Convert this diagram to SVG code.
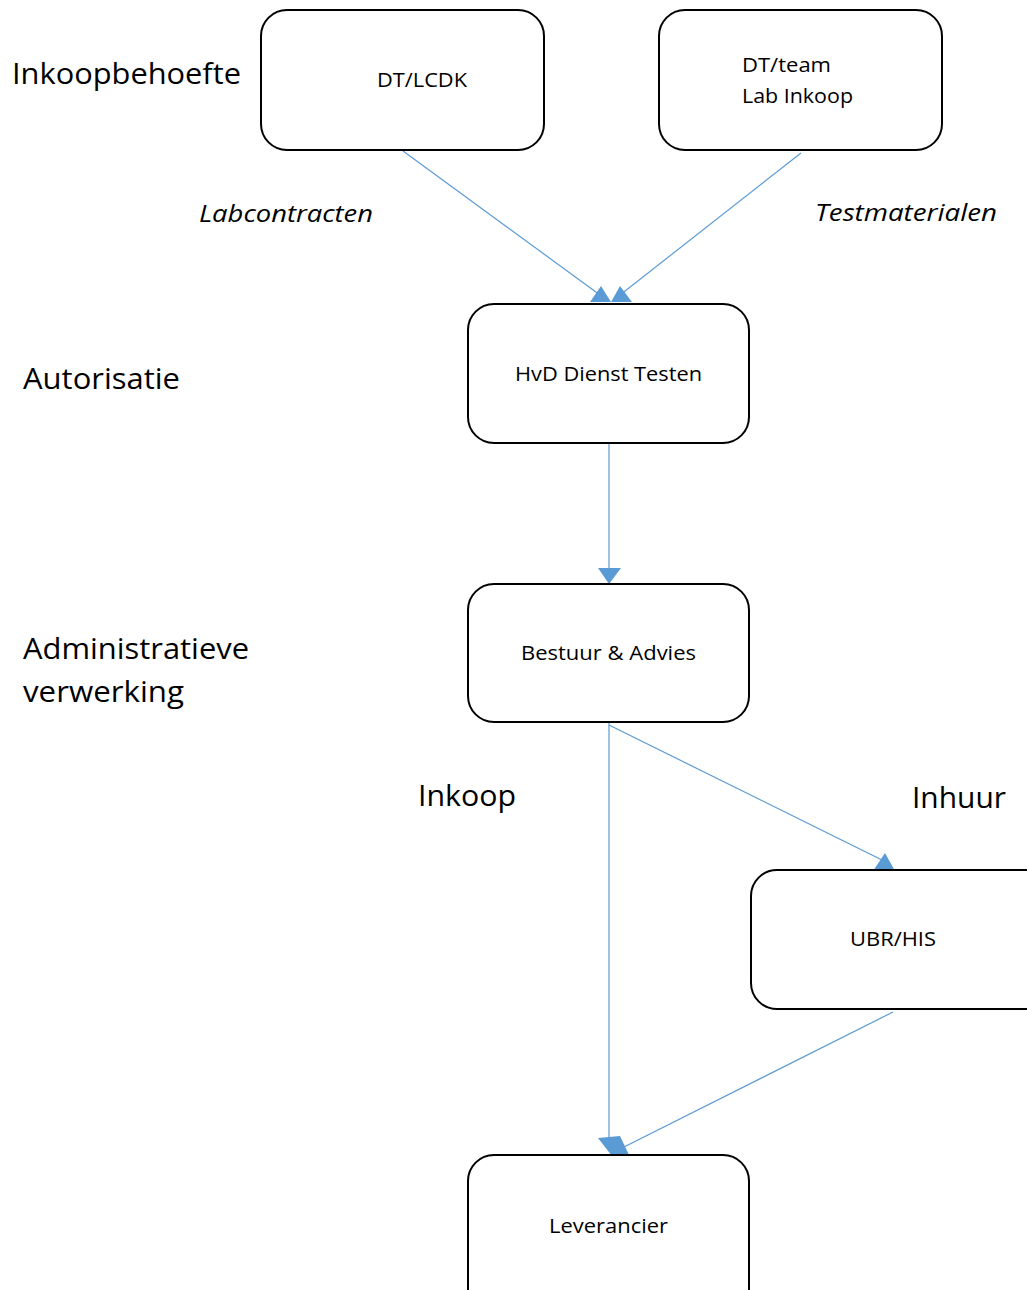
<svg xmlns="http://www.w3.org/2000/svg" width="1027" height="1290" viewBox="0 0 1027 1290">
<style>
.box{fill:#fff;stroke:#000;stroke-width:2}
text{lengthAdjust:spacingAndGlyphs}
.nt{font-family:"Open Sans","Liberation Sans",sans-serif;font-size:20.5px;fill:#000}
.lbl{font-family:"Open Sans","Liberation Sans",sans-serif;font-size:30px;fill:#000}
.it{font-family:"Open Sans","Liberation Sans",sans-serif;font-size:24px;font-style:italic;fill:#000}
.ln{stroke:#5b9bd5;stroke-width:1.2;fill:none}
.ah{fill:#5b9bd5;stroke:none}
</style>
<rect width="1027" height="1290" fill="#fff"/>
<text class="lbl" x="12" y="84" textLength="229" lengthAdjust="spacingAndGlyphs">Inkoopbehoefte</text>
<text class="lbl" x="23" y="389" textLength="157" lengthAdjust="spacingAndGlyphs">Autorisatie</text>
<text class="lbl" x="23" y="659" textLength="226" lengthAdjust="spacingAndGlyphs">Administratieve</text>
<text class="lbl" x="23" y="702" textLength="161" lengthAdjust="spacingAndGlyphs">verwerking</text>
<text class="it" x="199" y="222" textLength="174" lengthAdjust="spacingAndGlyphs">Labcontracten</text>
<text class="it" x="815" y="221" textLength="182" lengthAdjust="spacingAndGlyphs">Testmaterialen</text>
<text class="lbl" x="418" y="806" textLength="98" lengthAdjust="spacingAndGlyphs">Inkoop</text>
<text class="lbl" x="912" y="808" textLength="94" lengthAdjust="spacingAndGlyphs">Inhuur</text>
<g id="connectors">
<line class="ln" x1="403" y1="151" x2="600" y2="295"/>
<line class="ln" x1="801" y1="153" x2="620" y2="295"/>
<polygon class="ah" points="590,302 611,302 601,286"/>
<polygon class="ah" points="611,302 632,302 620,286"/>
<line class="ln" x1="609" y1="444" x2="609" y2="570"/>
<polygon class="ah" points="598,568 621,568 609,584"/>
<line class="ln" x1="609" y1="723" x2="609" y2="1140"/>
<line class="ln" x1="609" y1="725" x2="882" y2="860"/>
<polygon class="ah" points="873,871 895,871 885,853"/>
<line class="ln" x1="893" y1="1012" x2="622" y2="1148"/>
<polygon class="ah" points="598,1138 620,1136 630,1157 612,1156"/>
</g>
<g id="dt-lcdk"><rect class="box" x="261" y="10" width="283" height="140" rx="26"/><text class="nt" x="377" y="87" textLength="90" lengthAdjust="spacingAndGlyphs">DT/LCDK</text></g>
<g id="dt-team"><rect class="box" x="659" y="10" width="283" height="140" rx="26"/><text class="nt" x="742" y="72" textLength="89" lengthAdjust="spacingAndGlyphs">DT/team</text><text class="nt" x="742" y="103" textLength="111" lengthAdjust="spacingAndGlyphs">Lab Inkoop</text></g>
<g id="hvd"><rect class="box" x="468" y="304" width="281" height="139" rx="26"/><text class="nt" x="515" y="381" textLength="187" lengthAdjust="spacingAndGlyphs">HvD Dienst Testen</text></g>
<g id="bestuur"><rect class="box" x="468" y="584" width="281" height="138" rx="26"/><text class="nt" x="521" y="660" textLength="175" lengthAdjust="spacingAndGlyphs">Bestuur &amp; Advies</text></g>
<g id="ubr"><rect class="box" x="751" y="870" width="300" height="139" rx="26"/><text class="nt" x="850" y="946" textLength="86" lengthAdjust="spacingAndGlyphs">UBR/HIS</text></g>
<g id="leverancier"><rect class="box" x="468" y="1155" width="281" height="160" rx="26"/><text class="nt" x="549" y="1233" textLength="119" lengthAdjust="spacingAndGlyphs">Leverancier</text></g>
</svg>
